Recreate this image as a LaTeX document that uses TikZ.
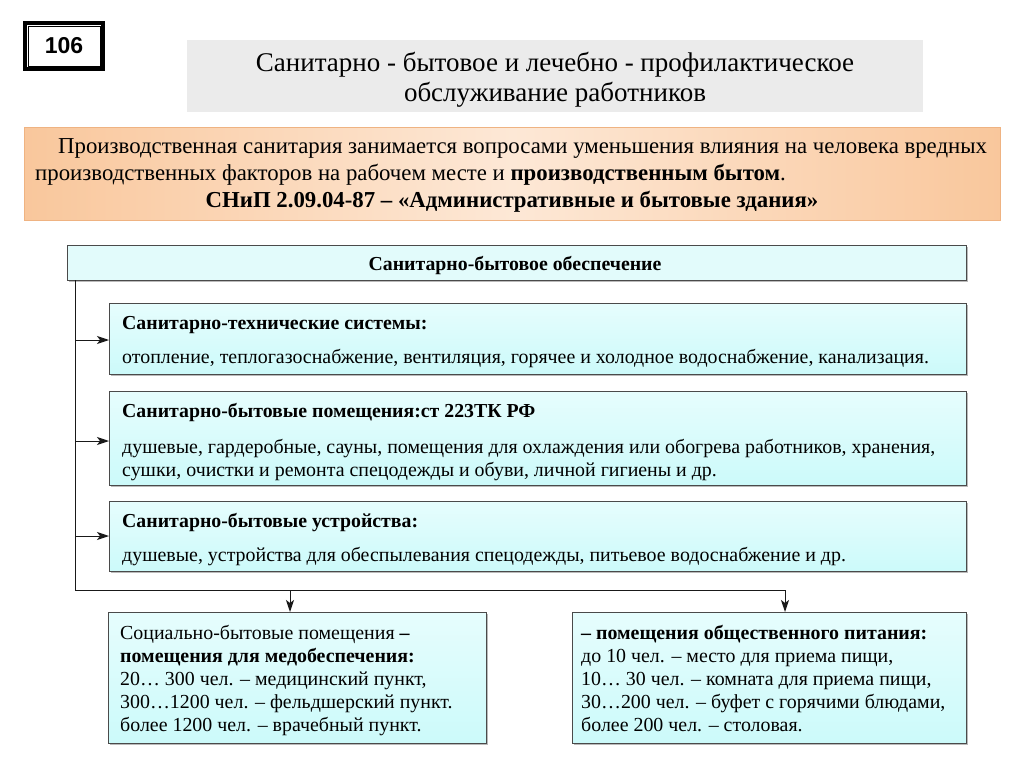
\documentclass[tikz,border=0pt]{standalone}
\usepackage{fontspec}
\setmainfont{Liberation Serif}
\newfontfamily\arialf{Liberation Sans}
\usetikzlibrary{arrows.meta,shadows}
\definecolor{boxc}{HTML}{CCFAFA}
\definecolor{boxl}{HTML}{E6FDFD}
\definecolor{hdrc}{HTML}{E2FBFB}
\definecolor{orP}{HTML}{F9C79C}
\definecolor{orL}{HTML}{FDE8D6}
\definecolor{orB}{HTML}{EFB382}
\definecolor{grayT}{HTML}{EBEBEB}
\definecolor{edge}{HTML}{4A4A4A}
\tikzset{
  x=1pt,y=-1pt,
  cbox/.style={draw=edge,line width=0.9pt,top color=boxl,bottom color=boxc,inner sep=0,
    drop shadow={shadow xshift=1.5pt,shadow yshift=-1.5pt,opacity=0.45,fill=black!60},anchor=north west},
  btitle/.style={font=\fontsize{19.8}{23}\selectfont\bfseries,anchor=base west,inner sep=0},
  btext/.style={font=\fontsize{19.9}{23}\selectfont,anchor=base west,inner sep=0},
  conn/.style={line width=1pt,draw=black!90},
  arr/.style={conn,-{Stealth[length=12pt,width=8pt,inset=3pt]}},
}
\begin{document}
\begin{tikzpicture}
\useasboundingbox (0,0) rectangle (1024,767);
\fill[white] (0,0) rectangle (1024,767);
% 106 badge
\node[draw=black,line width=4pt,minimum width=78,minimum height=46,anchor=north west,inner sep=0] (badge) at (23,21) {};
\draw[line width=0.8pt] ([xshift=5pt,yshift=-5pt]badge.north west) rectangle ([xshift=-5pt,yshift=5pt]badge.south east);
\node[font=\arialf\bfseries\fontsize{23}{25}\selectfont] (num) at (badge.center) {106};
% title
\node[fill=grayT,minimum width=736,minimum height=72,anchor=north west,inner sep=0] (ttl) at (187,40) {};
\node[font=\fontsize{27}{30}\selectfont,align=center] (ttltext) at (555,80) {Санитарно - бытовое и лечебно - профилактическое\\обслуживание работников};
% orange box
\node[draw=orB,line width=0.8pt,left color=orP,right color=orP,middle color=orL,minimum width=976,minimum height=93,anchor=north west,inner sep=0] (org) at (24,127) {};
\node[font=\fontsize{22.8}{26}\selectfont,anchor=base west,inner sep=0] (o1) at (58,154) {Производственная санитария занимается вопросами уменьшения влияния на человека вредных};
\node[font=\fontsize{22.8}{26}\selectfont,anchor=base west,inner sep=0] (o2) at (35,181) {производственных факторов на рабочем месте и \textbf{производственным бытом}.};
\node[font=\fontsize{22.8}{26}\selectfont\bfseries,anchor=base,inner sep=0] (o3) at (512,208) {СНиП 2.09.04-87 – «Административные и бытовые здания»};
% header
\node[draw=edge,line width=0.9pt,fill=hdrc,minimum width=899,minimum height=35,anchor=north west,inner sep=0,
  drop shadow={shadow xshift=1.5pt,shadow yshift=-1.5pt,opacity=0.45,fill=black!60}] (hdr) at (67,245) {};
\node[btitle,anchor=base] (hdrt) at (515,270) {Санитарно-бытовое обеспечение};
% box 1
\node[cbox,minimum width=857,minimum height=71] (b1) at (109,303) {};
\node[btitle] (b1t) at (122,329) {Санитарно-технические системы:};
\node[btext] (b1a) at (122,363) {отопление, теплогазоснабжение, вентиляция, горячее и холодное водоснабжение, канализация.};
% box 2
\node[cbox,minimum width=857,minimum height=94] (b2) at (109,391) {};
\node[btitle] (b2t) at (122,417) {Санитарно-бытовые помещения:ст 223ТК РФ};
\node[btext] (b2a) at (122,453) {душевые, гардеробные, сауны, помещения для охлаждения или обогрева работников, хранения,};
\node[btext] (b2b) at (122,476) {сушки, очистки и ремонта спецодежды и обуви, личной гигиены и др.};
% box 3
\node[cbox,minimum width=857,minimum height=70] (b3) at (109,501) {};
\node[btitle] (b3t) at (122,527) {Санитарно-бытовые устройства:};
\node[btext] (b3a) at (122,561) {душевые, устройства для обеспылевания спецодежды, питьевое водоснабжение и др.};
% bottom boxes
\node[cbox,minimum width=378,minimum height=131] (bl) at (108,612) {};
\node[cbox,minimum width=394,minimum height=131] (br) at (572,612) {};
\node[btext] (l1) at (120,639) {Социально-бытовые помещения \textbf{–}};
\node[btext] (l2) at (120,662) {\textbf{помещения для медобеспечения:}};
\node[btext] (l3) at (120,685) {20… 300 чел. – медицинский пункт,};
\node[btext] (l4) at (120,708) {300…1200 чел. – фельдшерский пункт.};
\node[btext] (l5) at (120,731) {более 1200 чел. – врачебный пункт.};
\node[btext] (r1) at (581,639) {\textbf{– помещения общественного питания:}};
\node[btext] (r2) at (581,662) {до 10 чел. – место для приема пищи,};
\node[btext] (r3) at (581,685) {10… 30 чел. – комната для приема пищи,};
\node[btext] (r4) at (581,708) {30…200 чел. – буфет с горячими блюдами,};
\node[btext] (r5) at (581,731) {более 200 чел. – столовая.};
% connectors
\coordinate (t0) at (75,280);
\coordinate (t1) at (75,590);
\coordinate (d1) at (290,590);
\coordinate (d2) at (785,590);
\draw[conn] (t0) -- (t1) -- (d2);
\draw[arr] (t0 |- 0,340) -- (b1.west |- 0,340);
\draw[arr] (t0 |- 0,441) -- (b2.west |- 0,441);
\draw[arr] (t0 |- 0,536) -- (b3.west |- 0,536);
\draw[arr] (d1) -- (d1 |- bl.north);
\draw[arr] (d2) -- (d2 |- br.north);
\end{tikzpicture}
\end{document}
